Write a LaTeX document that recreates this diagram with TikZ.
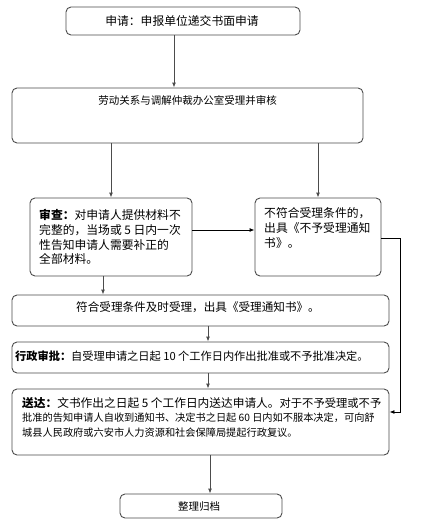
\documentclass[tikz,border=0pt]{standalone}
\usepackage{fontspec}
\setmainfont{Noto Sans CJK SC}
\usetikzlibrary{arrows.meta,calc}
\begin{document}
\begin{tikzpicture}[x=1pt,y=-1pt,
  box/.style={draw=black!70, line width=0.9pt, rounded corners=5pt, fill=white, inner sep=0pt},
  arr/.style={draw=black!70, line width=0.9pt, -{Latex[length=5pt,width=4pt]}},
  txt/.style={inner sep=0pt, align=left},
]
\useasboundingbox (0,0) rectangle (431,527);
\fill[white] (0,0) rectangle (431,527);
% boxes
\node[box, minimum width=234, minimum height=28] (b1) at (183,21) {};
\node[txt, font=\fontsize{11.8}{14}\selectfont] (b1t) at (182,21) {申请：申报单位递交书面申请};
\node[box, minimum width=351, minimum height=55] (b2) at (187.5,115.5) {};
\node[txt, font=\fontsize{10.5}{13}\selectfont] (b2t) at (187.5,100) {劳动关系与调解仲裁办公室受理并审核};
\node[box, minimum width=162, minimum height=78] (b3) at (111,237) {};
\node[txt, anchor=west, font=\fontsize{11.8}{14.7}\selectfont] (b3t) at (39,237) {\textbf{审查：}对申请人提供材料不\\完整的，当场或 5 日内一次\\性告知申请人需要补正的\\全部材料。};
\node[box, minimum width=126, minimum height=78] (b4) at (318,237) {};
\node[txt, anchor=north west, font=\fontsize{11.8}{14.7}\selectfont] (b4t) at (264,207.5) {不符合受理条件的，\\出具《不予受理通知\\书》。};
\node[box, minimum width=377, minimum height=31] (b5) at (200.5,310.5) {};
\node[txt, font=\fontsize{11.6}{14}\selectfont] (b5t) at (198,307) {符合受理条件及时受理，出具《受理通知书》。};
\node[box, minimum width=377, minimum height=31] (b6) at (200.5,357.5) {};
\node[txt, anchor=west, font=\fontsize{11.2}{14}\selectfont] (b6t) at (15,356) {\textbf{行政审批：}自受理申请之日起 10 个工作日内作出批准或不予批准决定。};
\node[box, minimum width=377, minimum height=66] (b7) at (200.5,422) {};
\node[txt, anchor=north west, font=\fontsize{10.2}{14.5}\selectfont] (b7t) at (22,397) {{\fontsize{11.7}{14.5}\selectfont\textbf{送达：}文书作出之日起 5 个工作日内送达申请人。}{\fontsize{11.3}{14.5}\selectfont 对于不予受理或不予}\\批准的告知申请人自收到通知书、决定书之日起 60 日内如不服本决定，可向舒\\城县人民政府或六安市人力资源和社会保障局提起行政复议。};
\node[box, minimum width=162, minimum height=24] (b8) at (201,506) {};
\node[txt, font=\fontsize{10.5}{13}\selectfont] (b8t) at (199,507) {整理归档};
% helper coordinates
\coordinate (c1) at (174,0);
\coordinate (c2) at (103,0);
\coordinate (c3) at (208,0);
\coordinate (c4) at (210,0);
\coordinate (h1) at (0,230);
\coordinate (h2) at (0,238);
\coordinate (h3) at (0,412);
\coordinate (v1) at (400,0);
% connectors
\draw[arr] (b1.south -| c1) -- (b2.north -| c1);
\draw[arr] (b2.south -| b3.north) -- (b3.north);
\draw[arr] (b2.south -| b4.north) -- (b4.north);
\draw[arr, draw=black] (b3.east |- h1) -- (b4.west |- h1);
\draw[arr] (b3.south -| c2) -- (b5.north -| c2);
\draw[arr] (b5.south -| c3) -- (b6.north -| c3);
\draw[arr] (b6.south -| c3) -- (b7.north -| c3);
\draw[arr] (b7.south -| c4) -- (b8.north -| c4);
\draw[arr, draw=black] (b4.east |- h2) -- (v1 |- h2) -- (v1 |- h3) -- (b7.east |- h3);
\end{tikzpicture}
\end{document}
